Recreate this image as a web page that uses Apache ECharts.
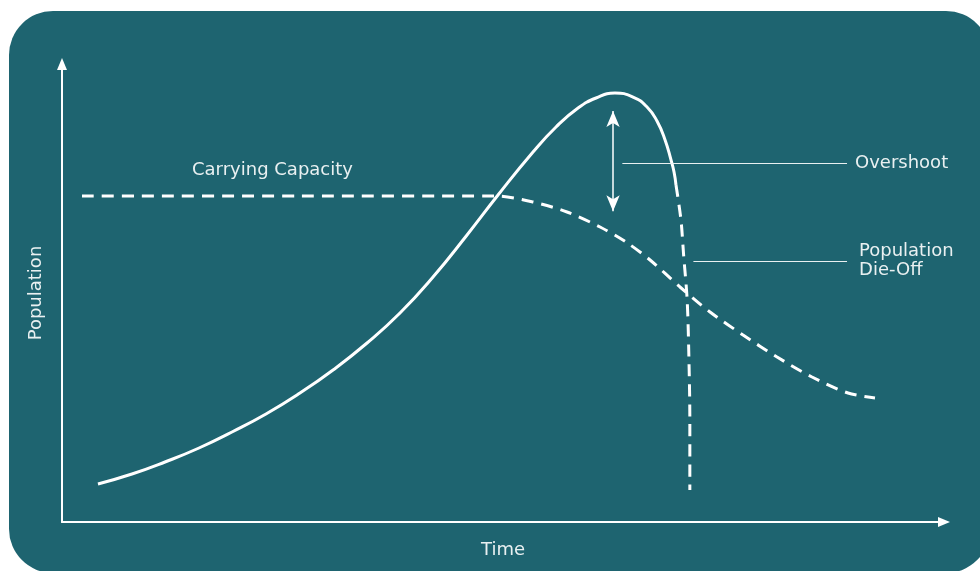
<!DOCTYPE html>
<html lang="en">
  <head>
    <meta charset="UTF-8" />
    <title>Overshoot and Die-Off</title>
    <script src="https://cdn.jsdelivr.net/npm/echarts@6.0.0/dist/echarts.min.js"></script>
    <style>
      html, body { margin: 0; padding: 0; background: #ffffff; }
    </style>
  </head>
  <body>
    <div id="main" style="width: 980px; height: 571px"></div>
    <script type="text/javascript">
      // population curve (solid part, growth + overshoot)
      const growthTime = [4.05, 7.88, 11.6, 15.43, 19.14, 22.97, 26.8, 30.52, 34.35, 38.06, 41.78, 45.61, 49.1, 53.04, 55.63, 58.11, 60.14, 62.27, 64.3, 65.88, 67.0, 67.91, 68.58, 68.92, 69.14];
      const growthPop = [8.19, 10.34, 12.93, 15.95, 19.4, 23.28, 27.8, 32.76, 38.58, 45.04, 52.8, 61.85, 70.47, 79.74, 85.13, 89.22, 91.38, 92.46, 91.59, 89.44, 86.42, 82.33, 78.02, 75.43, 72.63];

      // die-off (dashed drop after the overshoot)
      const dieOffTime = [69.14, 69.7, 70.0, 70.4, 70.6, 70.7, 70.7];
      const dieOffPop = [72.63, 65.1, 57.5, 47.8, 34.9, 22.0, 6.9];

      // carrying capacity (dashed)
      const capacityTime = [2.25, 26.8, 48.76, 53.04, 56.87, 60.59, 63.51, 66.22, 69.59, 72.97, 76.69, 80.52, 84.46, 88.51, 91.55];
      const capacityPop = [70.26, 70.26, 70.26, 68.97, 66.81, 63.58, 60.34, 56.47, 50.65, 45.26, 40.3, 35.56, 31.25, 27.8, 26.72];

      // annotations
      const overshootArrow = { time: 62.05, top: 88.6, bottom: 67.0 };
      const overshootLeader = { from: 63.1, to: 88.4, pop: 77.4 };
      const dieOffLeader = { from: 71.1, to: 88.4, pop: 56.3 };
      const capacityLabelAt = [23.7, 75.9];

      const white = "#ffffff";
      const textColor = "#e9f0f1";
      const font = "DejaVu Sans";
      const fontSize = 18;

      const zip = (xs, ys) => xs.map((x, i) => [x, ys[i]]);

      let myChart = echarts.init(document.getElementById("main"));

      const axisLine = {
        show: true,
        onZero: false,
        symbol: ["none", "triangle"],
        symbolSize: [10, 12],
        symbolOffset: [0, 0],
        lineStyle: { color: white, width: 2 },
      };

      let options = {
        backgroundColor: "#ffffff",
        animation: false,
        graphic: [
          {
            type: "rect",
            z: -10,
            shape: { x: 9, y: 11, width: 981, height: 562, r: 44 },
            style: { fill: "#1e6470" },
          },
        ],
        // axis ends short of the arrow tips; max keeps the same units per pixel
        grid: { left: 62, right: 36, top: 64, bottom: 49 },
        xAxis: {
          type: "value",
          min: 0,
          max: 99.32,
          name: "Time",
          nameLocation: "middle",
          nameGap: 19,
          nameTextStyle: { color: textColor, fontFamily: font, fontSize: fontSize },
          axisLine: axisLine,
          axisTick: { show: false },
          axisLabel: { show: false },
          splitLine: { show: false },
        },
        yAxis: {
          type: "value",
          min: 0,
          max: 98.71,
          name: "Population",
          nameLocation: "middle",
          nameGap: 17,
          nameTextStyle: { color: textColor, fontFamily: font, fontSize: fontSize },
          axisLine: axisLine,
          axisTick: { show: false },
          axisLabel: { show: false },
          splitLine: { show: false },
        },
        series: [
          {
            name: "Carrying Capacity",
            type: "line",
            data: zip(capacityTime, capacityPop),
            smooth: 0.3,
            showSymbol: false,
            lineStyle: { color: white, width: 3, type: [12, 8] },
            markPoint: {
              symbol: "circle",
              symbolSize: 0,
              label: {
                show: true,
                formatter: "Carrying Capacity",
                color: textColor,
                fontFamily: font,
                fontSize: fontSize,
              },
              data: [{ coord: capacityLabelAt }],
            },
          },
          {
            name: "Population",
            type: "line",
            data: zip(growthTime, growthPop),
            smooth: 0.5,
            showSymbol: false,
            lineStyle: { color: white, width: 3 },
            markLine: {
              silent: true,
              symbol: ["arrow", "arrow"],
              symbolSize: [10, 16],
              lineStyle: { color: white, width: 1.5, type: "solid" },
              label: { show: false },
              data: [
                [
                  { coord: [overshootArrow.time, overshootArrow.top] },
                  { coord: [overshootArrow.time, overshootArrow.bottom] },
                ],
              ],
            },
          },
          {
            name: "Die-Off",
            type: "line",
            data: zip(dieOffTime, dieOffPop),
            smooth: 0.3,
            showSymbol: false,
            lineStyle: { color: white, width: 3, type: [12, 8] },
            markLine: {
              silent: true,
              symbol: ["none", "none"],
              lineStyle: { color: textColor, width: 1.2, type: "solid" },
              label: {
                show: true,
                position: "end",
                distance: 8,
                color: textColor,
                fontFamily: font,
                fontSize: fontSize,
                lineHeight: 19,
                align: "left",
              },
              data: [
                [
                  { coord: [overshootLeader.from, overshootLeader.pop] },
                  { coord: [overshootLeader.to, overshootLeader.pop], label: { formatter: "Overshoot" } },
                ],
                [
                  { coord: [dieOffLeader.from, dieOffLeader.pop] },
                  { coord: [dieOffLeader.to, dieOffLeader.pop], label: { formatter: "Population\nDie-Off", distance: 12 } },
                ],
              ],
            },
          },
        ],
      };

      myChart.setOption(options);
    </script>
  </body>
</html>
